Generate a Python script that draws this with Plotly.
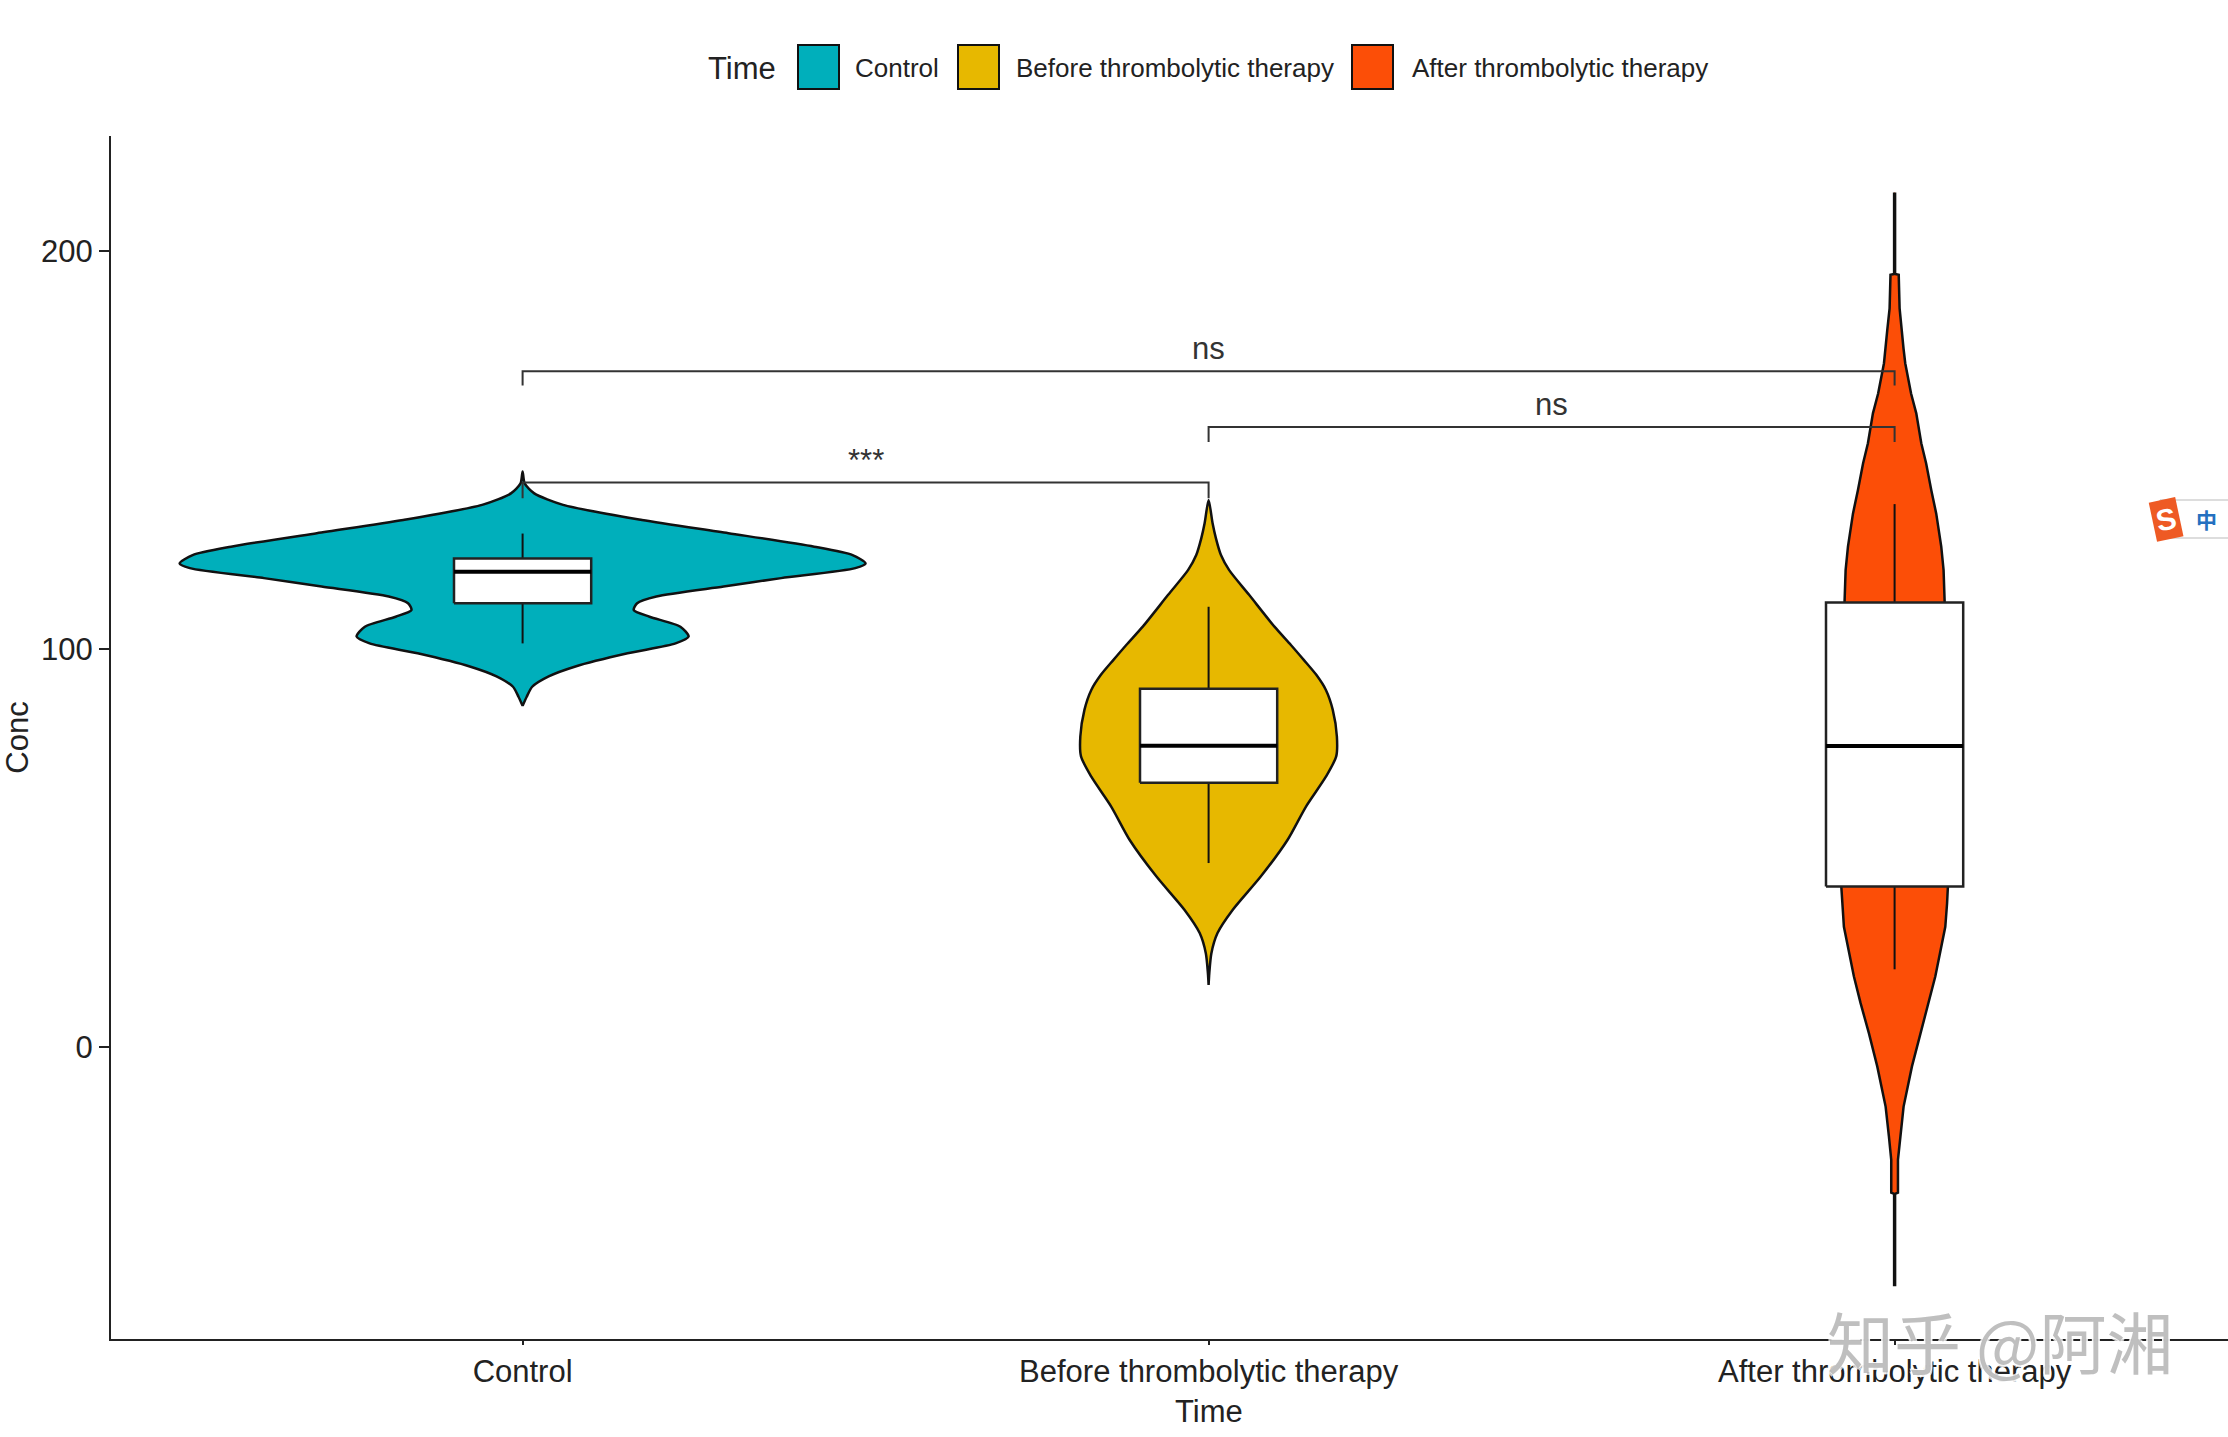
import plotly.graph_objects as go

categories = ["Control", "Before thrombolytic therapy", "After thrombolytic therapy"]
colors = ["#00AFBB", "#E7B800", "#FC4E07"]
positions = [0, 1, 2]

control_y = [144.6, 141.6, 139.1, 136.2, 132.4, 129.1, 125.7, 123.6, 121.5, 120.3, 117.8, 115.7, 113.2,
             111.5, 109.8, 108.1, 105.6, 103.1, 101.4, 98.9, 95.6, 93.1, 90.5, 88.0, 85.7]
control_hw = [0, .003, .017, .059, .174, .300, .425, .481, .5, .485, .377, .293, .195,
              .167, .162, .185, .230, .242, .223, .153, .077, .038, .014, .006, 0]

before_y = [137.4, 131.6, 127.8, 123.6, 119.8, 113.6, 105.6, 101.0, 97.2, 93.5, 89.7, 84.7, 78.0, 73.0, 67.9, 60.4,
            52.0, 42.8, 34.4, 28.6, 23.5, 18.5, 15.6]
before_hw = [0, .0058, .0107, .018, .030, .059, .096, .120, .139, .157, .171, .181, .187, .186, .171, .142,
             .115, .076, .035, .013, .004, .001, 0]

after_y = [214.7, 194.2, 194.0, 185.6, 180.1, 175.5, 171.8, 164.2, 159.2, 151.7, 146.6, 139.9, 134.0,
           125.7, 119.8, 111.7, 75.6, 40.3, 36.1, 30.2, 26.0, 17.7, 11.0, 3.4, -4.9, -15.0, -22.5, -28.4,
           -36.6, -36.9, -59.8]
after_hw = [.0007, .0007, .006, .0073, .0107, .013, .0155, .024, .0316, .0389, .046, .0535, .0607,
            .068, .0714, .073, .08, .0777, .0765, .0739, .069, .0593, .0496, .0374, .0253, .0131, .0083, .0049,
            .0049, .0007, .0007]

q1 = [111.5, 66.4, 40.3]
median = [119.4, 75.7, 75.6]
q3 = [122.7, 90.0, 111.7]
whisker_low = [101.4, 46.2, 19.5]
whisker_high = [129.0, 110.6, 136.4]
box_half = 0.1

bracket_left = [0, 1, 0]
bracket_right = [1, 2, 2]
bracket_y = [141.8, 155.8, 169.8]
bracket_tip = [3.9, 3.8, 3.6]
bracket_label = ["***", "ns", "ns"]

y_ticks = [0, 100, 200]

W, H = 2228, 1437
L, R, T, B = 111, 2228, 136, 1339
def px(x): return (x - L) / (R - L)
def py(y): return (B - y) / (B - T)

shapes = []
annots = []

fig = go.Figure()
violins = [(control_y, control_hw), (before_y, before_hw), (after_y, after_hw)]
for i, (ys, hw) in enumerate(violins):
    xs = [positions[i] - h for h in hw] + [positions[i] + h for h in reversed(hw)]
    yy = list(ys) + list(reversed(ys))
    line = dict(color="#111111", width=2.5)
    if i < 2:
        line.update(shape="spline", smoothing=0.7)
    fig.add_trace(go.Scatter(x=xs, y=yy, mode="lines", fill="toself", fillcolor=colors[i],
                             line=line, showlegend=False, name=categories[i]))

for i in range(3):
    p = positions[i]
    fig.add_trace(go.Scatter(x=[p, p, None, p, p], y=[q3[i], whisker_high[i], None, q1[i], whisker_low[i]],
                             mode="lines", line=dict(color="#111111", width=2), showlegend=False))
    fig.add_trace(go.Scatter(x=[p - box_half, p + box_half, p + box_half, p - box_half, p - box_half],
                             y=[q1[i], q1[i], q3[i], q3[i], q1[i]], mode="lines", fill="toself",
                             fillcolor="white", line=dict(color="#222222", width=2.5), showlegend=False))
    fig.add_trace(go.Scatter(x=[p - box_half, p + box_half], y=[median[i], median[i]],
                             mode="lines", line=dict(color="black", width=4), showlegend=False))

for l, r, y, t, lab in zip(bracket_left, bracket_right, bracket_y, bracket_tip, bracket_label):
    fig.add_trace(go.Scatter(x=[l, l, r, r], y=[y - t, y, y, y - t], mode="lines",
                             line=dict(color="#333333", width=2), showlegend=False))
    annots.append(dict(x=(l + r) / 2, y=y, xref="x", yref="y", text=lab, showarrow=False, yanchor="bottom",
                       yshift=3, font=dict(family="Liberation Sans", size=31, color="#333333")))

# legend
annots.append(dict(xref="paper", yref="paper", x=px(706), y=py(68), text="Time", showarrow=False,
                   xanchor="left", yanchor="middle", font=dict(family="Liberation Sans", size=31, color="#222")))
key_x = [798, 958, 1352]
label_x = [853, 1014, 1410]
for i in range(3):
    shapes.append(dict(type="rect", xref="paper", yref="paper", x0=px(key_x[i]), x1=px(key_x[i] + 41),
                       y0=py(89), y1=py(45), fillcolor=colors[i], line=dict(color="#111", width=2)))
    annots.append(dict(xref="paper", yref="paper", x=px(label_x[i]), y=py(68), text=categories[i],
                       showarrow=False, xanchor="left", yanchor="middle",
                       font=dict(family="Liberation Sans", size=26, color="#222")))

# x axis title (centred on the middle category)
annots.append(dict(x=1, xref="x", yref="paper", y=py(1411), text="Time", showarrow=False, yanchor="middle",
                   font=dict(family="Liberation Sans", size=31, color="#222")))

# watermark
halo = "1.5px 1.5px 0 white, -1.5px -1.5px 0 white, 1.5px -1.5px 0 white, -1.5px 1.5px 0 white"
annots.append(dict(xref="paper", yref="paper", x=px(2000), y=py(1339), text="知乎 @阿湘", showarrow=False,
                   xanchor="center", yanchor="middle",
                   font=dict(family="Noto Sans CJK SC", size=67, color="rgba(170,170,170,0.75)", shadow=halo)))

# input-method badge
shapes.append(dict(type="rect", xref="paper", yref="paper", x0=px(2160), x1=px(2232), y0=py(538), y1=py(500),
                   fillcolor="white", line=dict(color="#bbbbbb", width=1)))
annots.append(dict(xref="paper", yref="paper", x=px(2166), y=py(519), text="<b>S</b>", showarrow=False,
                   xanchor="center", yanchor="middle", textangle=-12, bgcolor="#EE5A24", borderpad=3,
                   font=dict(family="Liberation Sans", size=30, color="white")))
annots.append(dict(xref="paper", yref="paper", x=px(2206), y=py(519), text="<b>中</b>", showarrow=False,
                   xanchor="center", yanchor="middle",
                   font=dict(family="Noto Sans CJK SC", size=21, color="#2470C0")))

fig.update_layout(
    width=W, height=H, paper_bgcolor="white", plot_bgcolor="white", showlegend=False,
    margin=dict(l=L, r=W - R, t=T, b=H - B, autoexpand=False),
    shapes=shapes, annotations=annots,
    xaxis=dict(range=[-0.6, 2.486], tickmode="array", tickvals=positions, ticktext=categories,
               showgrid=False, zeroline=False, showline=True, linecolor="#222", linewidth=2,
               ticks="outside", ticklen=4, tickwidth=2, tickcolor="#222",
               tickfont=dict(family="Liberation Sans", size=31, color="#222")),
    yaxis=dict(range=[-73.4, 228.9], tickmode="array", tickvals=y_ticks,
               showgrid=False, zeroline=False, showline=True, linecolor="#222", linewidth=2,
               ticks="outside", ticklen=10, tickwidth=2, tickcolor="#222",
               tickfont=dict(family="Liberation Sans", size=31, color="#222"),
               title=dict(text="Conc", standoff=10, font=dict(family="Liberation Sans", size=31, color="#222"))),
)
fig.write_html("out.html", config=dict(displayModeBar=False), post_script="document.body.style.margin='0';")
